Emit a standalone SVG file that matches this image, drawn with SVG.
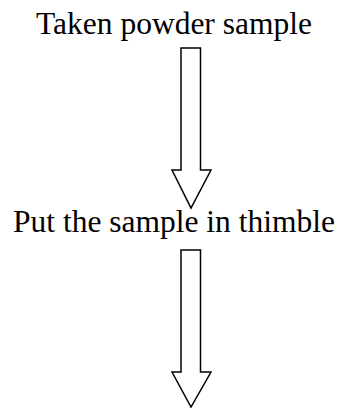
<svg xmlns="http://www.w3.org/2000/svg" width="340" height="408" viewBox="0 0 340 408">
<style>
.lbl{font-family:"Liberation Serif","Times New Roman",serif;font-size:31.5px;fill:#000;text-anchor:middle}
.arr{fill:#fff;stroke:#000;stroke-width:1.5;stroke-linejoin:miter}
</style>
<rect width="340" height="408" fill="#fff"/>
<g id="node1"><text class="lbl" x="174" y="34">Taken powder sample</text></g>
<g id="node2"><text class="lbl" x="174" y="232">Put the sample in thimble</text></g>
<g id="connectors">
<polygon class="arr" points="181,48 200.5,48 200.5,170 211,170 191,208 172,170 181,170"/>
<polygon class="arr" points="181,250 200.5,250 200.5,372 211,372 191,407 172,372 181,372"/>
</g>
</svg>
